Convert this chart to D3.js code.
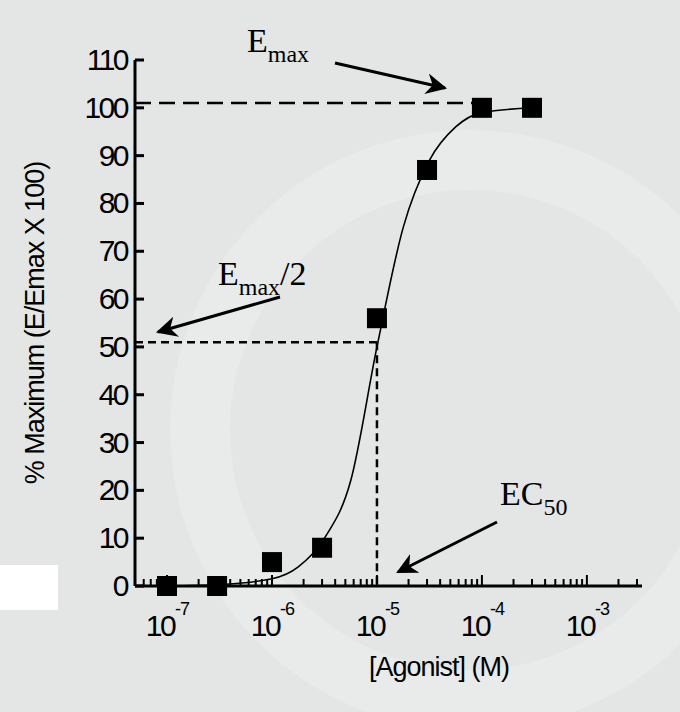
<!DOCTYPE html><html><head><meta charset="utf-8">
<script src="https://cdn.jsdelivr.net/npm/d3@7"></script>
<style>body{margin:0;background:#e3e6e4}</style></head><body>
<script>
const concentrations=[1e-7,3e-7,1e-6,3e-6,1e-5,3e-5,1e-4,3e-4];
const responses=[0,0,5,8,56,87,100,100];
const curveX=[1e-7,3.16e-7,1e-6,1.78e-6,3.16e-6,5.62e-6,1e-5,1.78e-5,3.16e-5,5.62e-5,1e-4,3e-4];
const curveY=[0,0.3,1.5,4,10,22,50,75,89,96,99,100];
const yTicks=[0,10,20,30,40,50,60,70,80,90,100,110];
const xMajor=[1e-7,1e-6,1e-5,1e-4,1e-3];
const xExp=["-7","-6","-5","-4","-3"];
const emax=101, half=51, ec50=1e-5;

const W=680,H=712;
const svg=d3.select("body").append("svg").attr("width",W).attr("height",H);
svg.append("rect").attr("width",W).attr("height",H).attr("fill","#e3e6e4");
svg.append("circle").attr("cx",470).attr("cy",430).attr("r",270).attr("fill","none").attr("stroke","#e8ebe9").attr("stroke-width",60);
svg.append("rect").attr("x",0).attr("y",565).attr("width",58).attr("height",45).attr("fill","#fff");

const x=d3.scaleLog().domain([Math.pow(10,-7.305),Math.pow(10,-2.475)]).range([135,642]);
const y=d3.scaleLinear().domain([0,110]).range([586,60]);
const ink="#000";
const F="Liberation Sans, Arial";
const g=svg.append("g");
g.append("line").attr("x1",135).attr("x2",135).attr("y1",y(110)).attr("y2",y(0)).attr("stroke",ink).attr("stroke-width",3);
yTicks.forEach(t=>{
  g.append("line").attr("x1",135).attr("x2",144).attr("y1",y(t)).attr("y2",y(t)).attr("stroke",ink).attr("stroke-width",3);
  g.append("text").attr("x",127).attr("y",y(t)+10).attr("text-anchor","end").attr("font-family",F).attr("font-size",30).attr("letter-spacing",-2.5).text(t);
});
g.append("line").attr("x1",135).attr("x2",642).attr("y1",y(0)).attr("y2",y(0)).attr("stroke",ink).attr("stroke-width",3);
const minor=[];
for(let e=-8;e<=-3;e++)for(let m=1;m<=9;m++){const v=m*Math.pow(10,e);if(x(v)>=136&&x(v)<=642)minor.push(v);}
minor.forEach(v=>{const maj=xMajor.some(M=>Math.abs(M-v)/v<1e-6);
  g.append("line").attr("x1",x(v)).attr("x2",x(v)).attr("y1",y(0)).attr("y2",y(0)-(maj?11:7)).attr("stroke",ink).attr("stroke-width",2);});
xMajor.forEach((v,i)=>{
  g.append("text").attr("x",x(v)-7).attr("y",636).attr("text-anchor","middle").attr("font-family",F).attr("font-size",30).attr("letter-spacing",-2.5).text("10");
  g.append("text").attr("x",x(v)+8).attr("y",615).attr("font-family",F).attr("font-size",18).attr("letter-spacing",-1).text(xExp[i]);
});
g.append("text").attr("x",x(1e-5)+62).attr("y",676).attr("text-anchor","middle").attr("font-family",F).attr("font-size",27).attr("letter-spacing",-1).text("[Agonist] (M)");
g.append("text").attr("transform","translate(44,"+y(55)+") rotate(-90)").attr("text-anchor","middle").attr("font-family",F).attr("font-size",27).attr("letter-spacing",-1).text("% Maximum (E/Emax X 100)");
g.append("line").attr("x1",135).attr("x2",x(1e-4)).attr("y1",y(emax)).attr("y2",y(emax)).attr("stroke",ink).attr("stroke-width",2.5).attr("stroke-dasharray","16,8");
g.append("line").attr("x1",135).attr("x2",x(ec50)).attr("y1",y(half)).attr("y2",y(half)).attr("stroke",ink).attr("stroke-width",2.5).attr("stroke-dasharray","8,5");
g.append("line").attr("x1",x(ec50)).attr("x2",x(ec50)).attr("y1",y(half)).attr("y2",y(0)).attr("stroke",ink).attr("stroke-width",2.5).attr("stroke-dasharray","8,5");
const cd=curveX.map((v,i)=>[v,curveY[i]]);
g.append("path").datum(cd).attr("d",d3.line().x(d=>x(d[0])).y(d=>y(d[1])).curve(d3.curveMonotoneX)).attr("fill","none").attr("stroke",ink).attr("stroke-width",1.6);
concentrations.forEach((c,i)=>g.append("rect").attr("x",x(c)-10).attr("y",y(responses[i])-10).attr("width",20).attr("height",20).attr("fill",ink));
svg.append("defs").append("marker").attr("id","ah").attr("viewBox","0 0 10 10").attr("refX",9).attr("refY",5).attr("markerWidth",7).attr("markerHeight",7).attr("orient","auto")
 .append("path").attr("d","M0,0 L10,5 L0,10 L3,5 Z").attr("fill",ink);
function arrow(x1,y1,x2,y2){g.append("line").attr("x1",x1).attr("y1",y1).attr("x2",x2).attr("y2",y2).attr("stroke",ink).attr("stroke-width",3).attr("marker-end","url(#ah)");}
function label(xp,yp,main,sub,tail){const t=g.append("text").attr("x",xp).attr("y",yp).attr("font-family","Liberation Serif, Times New Roman").attr("font-size",34);
  t.append("tspan").text(main);t.append("tspan").attr("dy",10).attr("font-size",24).text(sub);if(tail)t.append("tspan").attr("dy",-10).text(tail);}
label(247,52,"E","max");
arrow(335,63,445,88);
label(218,285,"E","max","/2");
arrow(280,297,158,332);
label(500,505,"EC","50");
arrow(497,522,398,572);
</script></body></html>
